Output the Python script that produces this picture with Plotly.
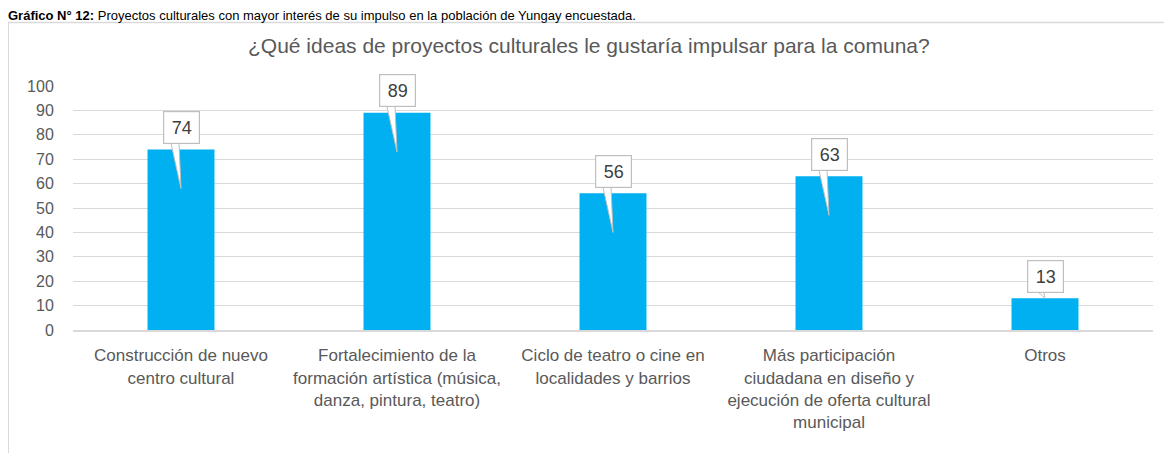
import plotly.graph_objects as go

categories = [
    "Construcción de nuevo<br>centro cultural",
    "Fortalecimiento de la<br>formación artística (música,<br>danza, pintura, teatro)",
    "Ciclo de teatro o cine en<br>localidades y barrios",
    "Más participación<br>ciudadana en diseño y<br>ejecución de oferta cultural<br>municipal",
    "Otros",
]
values = [74, 89, 56, 63, 13]
y_ticks = list(range(0, 101, 10))

title_text = "¿Qué ideas de proyectos culturales le gustaría impulsar para la comuna?"
caption_text = ("<b>Gráfico N° 12:</b> Proyectos culturales con mayor interés de su "
                "impulso en la población de Yungay encuestada.")

FONT = "Liberation Sans, Arial, sans-serif"
GREY = "#595959"
BAR = "#00b0f0"

idx = list(range(len(values)))

fig = go.Figure()
fig.add_trace(go.Bar(x=idx, y=values, marker=dict(color=BAR, line=dict(width=0)),
                     hoverinfo="skip"))

# callout labels: a small wedge under each box
shapes = []
annotations = []
for i, v in zip(idx, values):
    tip = v - 16 if v > 30 else v
    shapes.append(dict(
        type="path", xref="x", yref="y",
        path=f"M {i - 0.05},{v + 4} L {i + 0.0},{tip} L {i - 0.01},{v + 4} Z",
        fillcolor="white", line=dict(color="#bfbfbf", width=1), layer="above"))
    annotations.append(dict(
        x=i, y=v + 9, xref="x", yref="y", text=str(v), showarrow=False,
        font=dict(family=FONT, size=18, color="#404040"),
        bgcolor="white", bordercolor="#bfbfbf", borderwidth=1.2, borderpad=5,
        width=25, height=21))

# outer chart border
shapes.append(dict(type="rect", xref="paper", yref="paper",
                   x0=-0.060, x1=1.011, y0=-0.6, y1=1.26,
                   line=dict(color="#d9d9d9", width=1.5), layer="below"))

annotations.append(dict(
    x=0.478, y=1.165, xref="paper", yref="paper", xanchor="center", yanchor="middle",
    text=title_text, showarrow=False,
    font=dict(family=FONT, size=21, color=GREY)))
annotations.append(dict(
    x=-0.062, y=1.29, xref="paper", yref="paper", xanchor="left", yanchor="middle",
    text=caption_text, showarrow=False,
    font=dict(family=FONT, size=13, color="#000000")))

fig.update_layout(
    width=1164, height=445,
    margin=dict(l=65, r=19, t=78, b=123),
    paper_bgcolor="white", plot_bgcolor="white",
    bargap=0.69, showlegend=False,
    shapes=shapes, annotations=annotations,
    font=dict(family=FONT, color=GREY),
)
fig.update_xaxes(
    tickmode="array", tickvals=idx, ticktext=categories,
    range=[-0.5, len(values) - 0.5],
    tickfont=dict(family=FONT, size=17, color=GREY),
    showline=True, linecolor="#d9d9d9", linewidth=2,
    ticks="outside", ticklen=9, tickcolor="rgba(0,0,0,0)",
    showgrid=False, fixedrange=True,
)
fig.update_yaxes(
    range=[0, 100], tickvals=y_ticks,
    tickfont=dict(family=FONT, size=16, color=GREY),
    showgrid=True, gridcolor="#d9d9d9", gridwidth=1.2,
    zeroline=False, ticks="outside", ticklen=15, tickcolor="rgba(0,0,0,0)",
    fixedrange=True,
)

fig.write_html("out.html")
